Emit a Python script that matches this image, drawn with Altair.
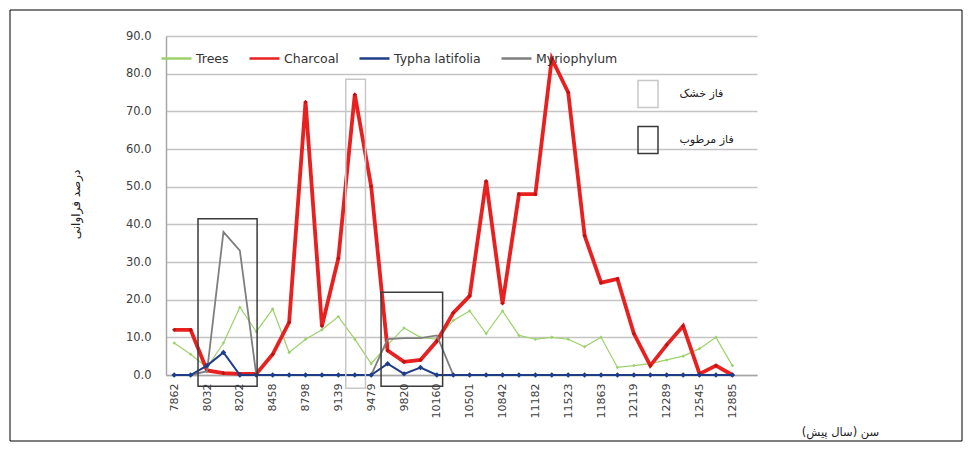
import altair as alt
import pandas as pd

# ---- data ----
ages = [7862, 7947, 8032, 8117, 8202, 8330, 8458, 8628, 8798, 8968, 9139, 9309,
        9479, 9650, 9820, 9990, 10160, 10331, 10501, 10672, 10842, 11012, 11182,
        11353, 11523, 11693, 11863, 11991, 12119, 12204, 12289, 12417, 12545,
        12715, 12885]

series_names = ["Trees", "Charcoal", "Typha latifolia", "Myriophylum"]
series_colors = ["#9dd16a", "#e8201f", "#1f3c88", "#7f7f7f"]

trees = [8.5, 5.5, 2, 8.5, 18, 11.5, 17.5, 6, 9.5, 12, 15.5, 9.5, 3, 8, 12.5,
         10, 9.5, 14.5, 17, 11, 17, 10.5, 9.5, 10, 9.5, 7.5, 10, 2, 2.5, 3, 4,
         5, 7, 10, 2.5]
charcoal = [12, 12, 1.2, 0.5, 0.3, 0.3, 5.5, 14, 72.5, 13, 31, 74.5, 50, 6.5,
            3.5, 4, 9, 16.5, 21, 51.5, 19, 48, 48, 84, 75, 37, 24.5, 25.5, 11,
            2.5, 8, 13, 0.3, 2.5, 0]
typha = [0, 0, 2.5, 6, 0, 0, 0, 0, 0, 0, 0, 0, 0, 3, 0.3, 2, 0, 0, 0, 0, 0, 0,
         0, 0, 0, 0, 0, 0, 0, 0, 0, 0, 0, 0, 0]
myrio = [0, 0, 1, 38, 33, 0, 0, 0, 0, 0, 0, 0, 0, 9.5, 9.8, 9.8, 10.5, 0, 0, 0,
         0, 0, 0, 0, 0, 0, 0, 0, 0, 0, 0, 0, 0, 0, 0]

phase_names = ["فاز خشک", "فاز مرطوب"]
phase_colors = ["#c8c8c8", "#3a3a3a"]
phase_type = ["فاز مرطوب", "فاز خشک", "فاز مرطوب"]
phase_start = [1.45, 10.45, 12.6]
phase_end = [5.05, 11.65, 16.35]
phase_top = [41.5, 78.5, 22]
phase_bottom = [-3, -3.5, -3]

y_ticks = list(range(0, 91, 10))
x_label_idx = list(range(0, len(ages), 2))

# ---- tables ----
rows = []
for name, vals in zip(series_names, [trees, charcoal, typha, myrio]):
    for i, v in enumerate(vals):
        rows.append({"idx": i, "age": ages[i], "series": name, "value": v})
df = pd.DataFrame(rows)

phases = pd.DataFrame({"phase": phase_type, "x0": phase_start, "x1": phase_end,
                       "top": phase_top, "bottom": phase_bottom})

label_expr = "[" + ",".join(f"'{a}'" for a in ages) + "][datum.value]"

xscale = alt.Scale(domain=[-0.5, 35.5], nice=False, zero=False)
yscale = alt.Scale(domain=[0, 90], nice=False, zero=False)

xaxis = alt.Axis(values=x_label_idx, labelExpr=label_expr, labelAngle=270,
                 grid=False, ticks=False, domain=True, labelPadding=8,
                 labelFontSize=11, title="سن (سال پیش)\u200f", titleX=674,
                 titleY=57, titleAngle=0, titleAlign="center",
                 titleBaseline="middle", titleFontWeight="normal",
                 titleFontSize=11.5, titleColor="#222222")
yaxis = alt.Axis(values=y_ticks, format=".1f", grid=True, ticks=False,
                 domain=True, labelPadding=15, labelFontSize=11.5,
                 title="درصد فراوانی", titleX=-91, titleY=168, titleAngle=270,
                 titleAlign="center", titleBaseline="middle",
                 titleFontWeight="normal", titleFontSize=12,
                 titleColor="#222222")

color_legend = alt.Legend(title=None, orient="none", legendX=-6, legendY=6,
                          direction="horizontal", symbolType="stroke",
                          symbolSize=900, symbolStrokeWidth=2.5,
                          labelFont="DejaVu Sans", labelFontSize=12.5,
                          labelColor="#333333", labelOffset=3,
                          columnPadding=15, padding=0)
color = alt.Color("series:N",
                  scale=alt.Scale(domain=series_names, range=series_colors),
                  legend=color_legend)

phase_legend = alt.Legend(title=None, orient="none", legendX=467.5,
                          legendY=43.5, direction="vertical",
                          symbolType="M-0.74,-1H0.74V1H-0.74Z", symbolSize=729,
                          symbolStrokeWidth=1.5, symbolFillColor="transparent",
                          labelFont="DejaVu Sans", labelFontSize=11,
                          labelColor="#222222", labelOffset=17,
                          rowPadding=13, padding=0)

widths = {"Trees": 1.2, "Charcoal": 3.8, "Typha latifolia": 2,
          "Myriophylum": 1.8}
marker = {"Trees": (12, "#9dd16a"), "Charcoal": (18, "#c01010"),
          "Typha latifolia": (30, "#1f3c88")}
draw_order = ["Trees", "Charcoal", "Myriophylum", "Typha latifolia"]

frame = alt.Chart(pd.DataFrame({"a": [0]})).mark_rect(
    filled=False, stroke="#000000", strokeWidth=1).encode(
    x=alt.value(-156), x2=alt.value(796), y=alt.value(-26), y2=alt.value(405))

layers = [frame]
base = alt.Chart(df)
for name in draw_order:
    sub = base.transform_filter(alt.datum.series == name)
    layers.append(sub.mark_line(strokeWidth=widths[name]).encode(
        x=alt.X("idx:Q", scale=xscale, axis=xaxis),
        y=alt.Y("value:Q", scale=yscale, axis=yaxis),
        color=color))
    if name in marker:
        sz, col = marker[name]
        layers.append(sub.mark_point(shape="diamond", filled=True, size=sz,
                                     color=col, opacity=1).encode(
            x=alt.X("idx:Q", scale=xscale, axis=xaxis),
            y=alt.Y("value:Q", scale=yscale, axis=yaxis)))

rects = alt.Chart(phases).mark_rect(filled=False, strokeWidth=1.5).encode(
    x=alt.X("x0:Q", scale=xscale, axis=xaxis), x2="x1:Q",
    y=alt.Y("top:Q", scale=yscale, axis=yaxis), y2="bottom:Q",
    stroke=alt.Stroke("phase:N",
                      scale=alt.Scale(domain=phase_names, range=phase_colors),
                      legend=phase_legend))
layers.append(rects)

chart = alt.layer(*layers).properties(
    width=591, height=339,
    autosize=alt.AutoSizeParams(type="none"),
    padding={"left": 158, "top": 28, "right": 209, "bottom": 77},
).configure_view(stroke=None).configure_axis(
    labelFont="DejaVu Sans", labelColor="#404040", titleFont="DejaVu Sans",
    domainColor="#a6a6a6", domainWidth=1.5, gridColor="#c4c4c4",
    gridWidth=1.5
)

chart.save("out.html", embed_options={"renderer": "svg", "actions": False})
